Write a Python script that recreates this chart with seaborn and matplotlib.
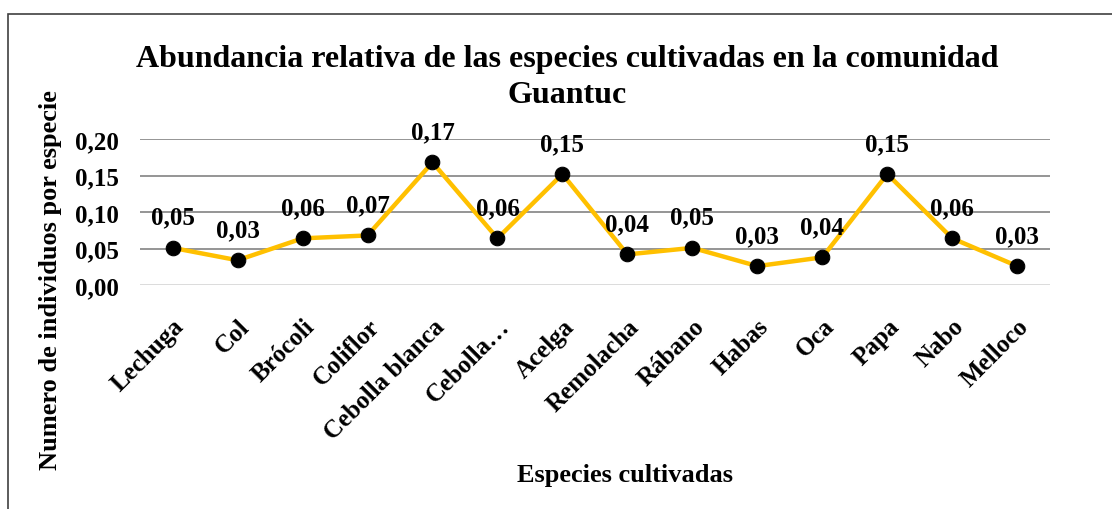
import matplotlib
matplotlib.use("Agg")
import matplotlib.pyplot as plt
import pandas as pd
import seaborn as sns
from matplotlib.patches import Rectangle

especies = ["Lechuga", "Col", "Brócoli", "Coliflor", "Cebolla blanca", "Cebolla…",
            "Acelga", "Remolacha", "Rábano", "Habas", "Oca", "Papa", "Nabo", "Melloco"]
abundancia = [0.051, 0.034, 0.064, 0.068, 0.168, 0.064, 0.152,
              0.042, 0.051, 0.026, 0.038, 0.152, 0.064, 0.026]
yticks = [0.00, 0.05, 0.10, 0.15, 0.20]

df = pd.DataFrame({"Especie": especies, "Abundancia": abundancia})

sns.set_style("white")
plt.rcParams["font.family"] = ["Liberation Serif", "DejaVu Serif"]
plt.rcParams["font.weight"] = "bold"
plt.rcParams["text.color"] = "black"
plt.rcParams["axes.labelcolor"] = "black"
plt.rcParams["xtick.color"] = "black"
plt.rcParams["ytick.color"] = "black"

fig = plt.figure(figsize=(11.12, 5.10), dpi=100)
ax = fig.add_axes([0.126, 0.439, 0.818, 0.2865])

sns.lineplot(data=df, x="Especie", y="Abundancia", sort=False, color="#FFC000",
             linewidth=3.2, marker="o", markersize=10.5, markerfacecolor="black",
             markeredgecolor="black", ax=ax, zorder=3)

for i, v in enumerate(abundancia):
    ax.annotate(f"{v:.2f}".replace(".", ","), (i, v), xytext=(0, 22),
                textcoords="offset points", ha="center", va="center",
                fontsize=18, fontweight="bold", color="black")

ax.set_xlim(-0.5, len(especies) - 0.5)
ax.set_ylim(0, 0.20)
ax.set_yticks(yticks)
ax.set_yticklabels([f"{t:.2f}".replace(".", ",") for t in yticks], fontsize=18, fontweight="bold")
ax.set_xticks(range(len(especies)))
ax.set_xticklabels(especies, rotation=45, ha="right", rotation_mode="anchor",
                   fontsize=18, fontweight="bold")
ax.tick_params(axis="y", length=0, pad=15)
ax.tick_params(axis="x", length=0, pad=21)

for t in yticks[1:]:
    ax.axhline(t, color="#8c8c8c", linewidth=1.3, zorder=1)
ax.axhline(0, color="#d9d9d9", linewidth=1.3, zorder=1)
for s in ax.spines.values():
    s.set_visible(False)

ax.set_xlabel("Especies cultivadas", fontsize=19, fontweight="bold")
ax.set_ylabel("Numero de individuos por especie", fontsize=19, fontweight="bold")
ax.yaxis.set_label_coords(-0.086, 0.04)
ax.xaxis.set_label_coords(0.533, -1.22)

fig.text(0.510, 0.848, "Abundancia relativa de las especies cultivadas en la comunidad\nGuantuc",
         ha="center", va="center", fontsize=23, fontweight="bold", linespacing=1.3)

fig.patches.append(Rectangle((8 / 1112, -0.1), 1.2, 1.1 - 15 / 510, transform=fig.transFigure,
                             fill=False, edgecolor="#404040", linewidth=1.2))

fig.savefig("out.png", dpi=100)
